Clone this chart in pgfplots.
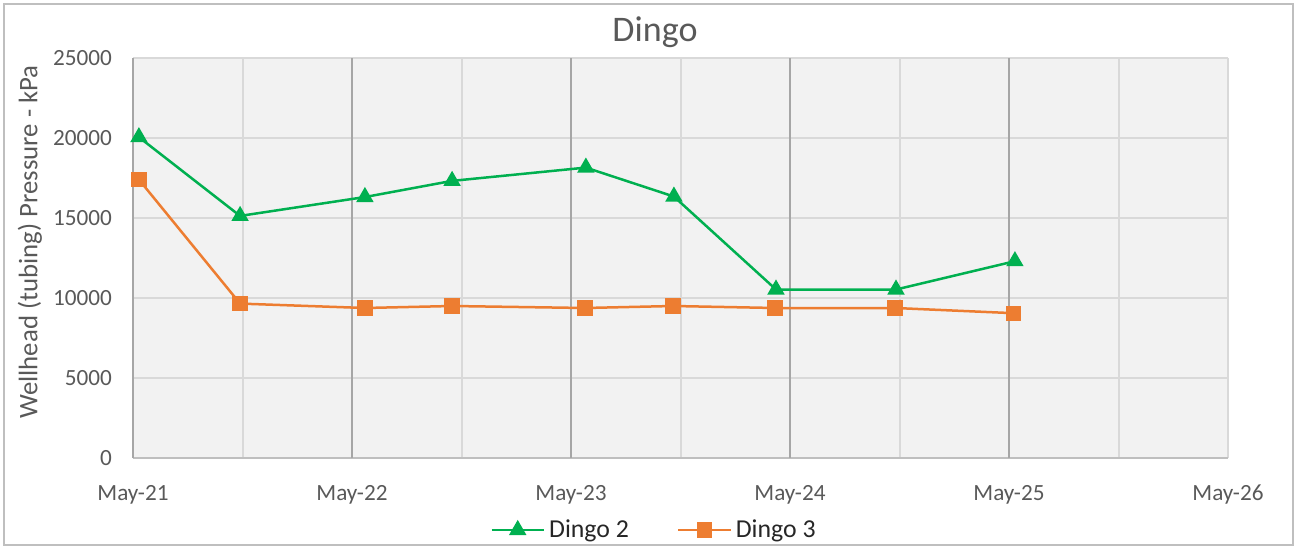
\documentclass[border=0pt]{standalone}
\usepackage{fontspec}
\setmainfont{Carlito}
\usepackage{pgfplots}
\pgfplotsset{compat=1.18}
\definecolor{txt}{HTML}{595959}
\definecolor{bg}{HTML}{F2F2F2}
\definecolor{gl}{HTML}{D9D9D9}
\definecolor{gd}{HTML}{A6A6A6}
\definecolor{bd}{HTML}{BFBFBF}
\definecolor{dgreen}{HTML}{00B050}
\definecolor{dorange}{HTML}{ED7D31}
\begin{document}
\begin{tikzpicture}
\begin{axis}[
  scale only axis, width=547.5pt, height=200pt,
  xmin=0, xmax=5, ymin=0, ymax=25000,
  axis background/.style={fill=bg},
  axis x line*=bottom, axis y line*=left,
  x axis line style={draw=bd, line width=1pt, -},
  y axis line style={draw=gd, line width=1pt, -},
  xtick={0,1,2,3,4,5},
  xticklabels={May-21,May-22,May-23,May-24,May-25,May-26},
  minor xtick={0.5,1.5,2.5,3.5,4.5},
  ytick={0,5000,10000,15000,20000,25000},
  scaled y ticks=false,
  /pgf/number format/.cd, 1000 sep={}, assume math mode=true, /pgfplots/.cd,
  xmajorgrids, xminorgrids, ymajorgrids,
  major grid style={gl, line width=1pt},
  minor grid style={gl, line width=1pt},
  extra x ticks={1,2,3,4},
  extra x tick labels={},
  extra x tick style={major grid style={gd, line width=1pt}},
  major tick length=0pt, minor tick length=0pt,
  tick style={draw=none},
  tick label style={font=\fontsize{11.6}{13}\selectfont, text=txt},
  xticklabel style={yshift=-10pt},
  yticklabel style={xshift=-7pt},
  every axis y label/.style={at={(rel axis cs:0,0.54)}, xshift=-51.5pt, rotate=90, anchor=center},
  ylabel={Wellhead (tubing) Pressure - kPa},
  label style={font=\fontsize{13.4}{15}\selectfont, text=txt},
  title={Dingo},
  every axis title/.style={at={(rel axis cs:0.4767,1.04)}, anchor=base, font=\fontsize{18}{20}\selectfont, text=txt},
  legend style={at={(rel axis cs:0.4767,-0.18)}, anchor=center, draw=none, fill=none,
    legend columns=2, font=\fontsize{12.9}{15}\selectfont, text=black!85,
    /tikz/every even column/.append style={column sep=22pt}},
  legend image code/.code={\draw[mark repeat=2,mark phase=2] plot coordinates {(0cm,0cm) (0.46cm,0cm) (0.92cm,0cm)};},
  clip=false,
]
\addplot[dgreen, line width=1.25pt, mark=triangle*, mark size=3.8pt, mark options={solid, fill=dgreen, draw=dgreen}] coordinates {
(0.027,20050) (0.489,15130) (1.059,16310) (1.457,17320) (2.068,18150) (2.470,16340) (2.936,10530) (3.484,10530) (4.027,12300)
};
\addlegendentry{Dingo 2}
\addplot[dorange, line width=1.25pt, mark=square*, mark size=3.2pt, mark options={solid, fill=dorange, draw=dorange}] coordinates {
(0.027,17400) (0.489,9650) (1.059,9375) (1.457,9500) (2.064,9375) (2.466,9500) (2.932,9375) (3.480,9375) (4.022,9050)
};
\addlegendentry{Dingo 3}
\end{axis}
\draw[bd, line width=0.8pt] ([xshift=-64.5pt,yshift=-43.5pt]current axis.south west) rectangle ([xshift=32.5pt,yshift=27pt]current axis.north east);
\path ([xshift=-66.5pt,yshift=-46pt]current axis.south west) rectangle ([xshift=36.5pt,yshift=29pt]current axis.north east);
\end{tikzpicture}
\end{document}
